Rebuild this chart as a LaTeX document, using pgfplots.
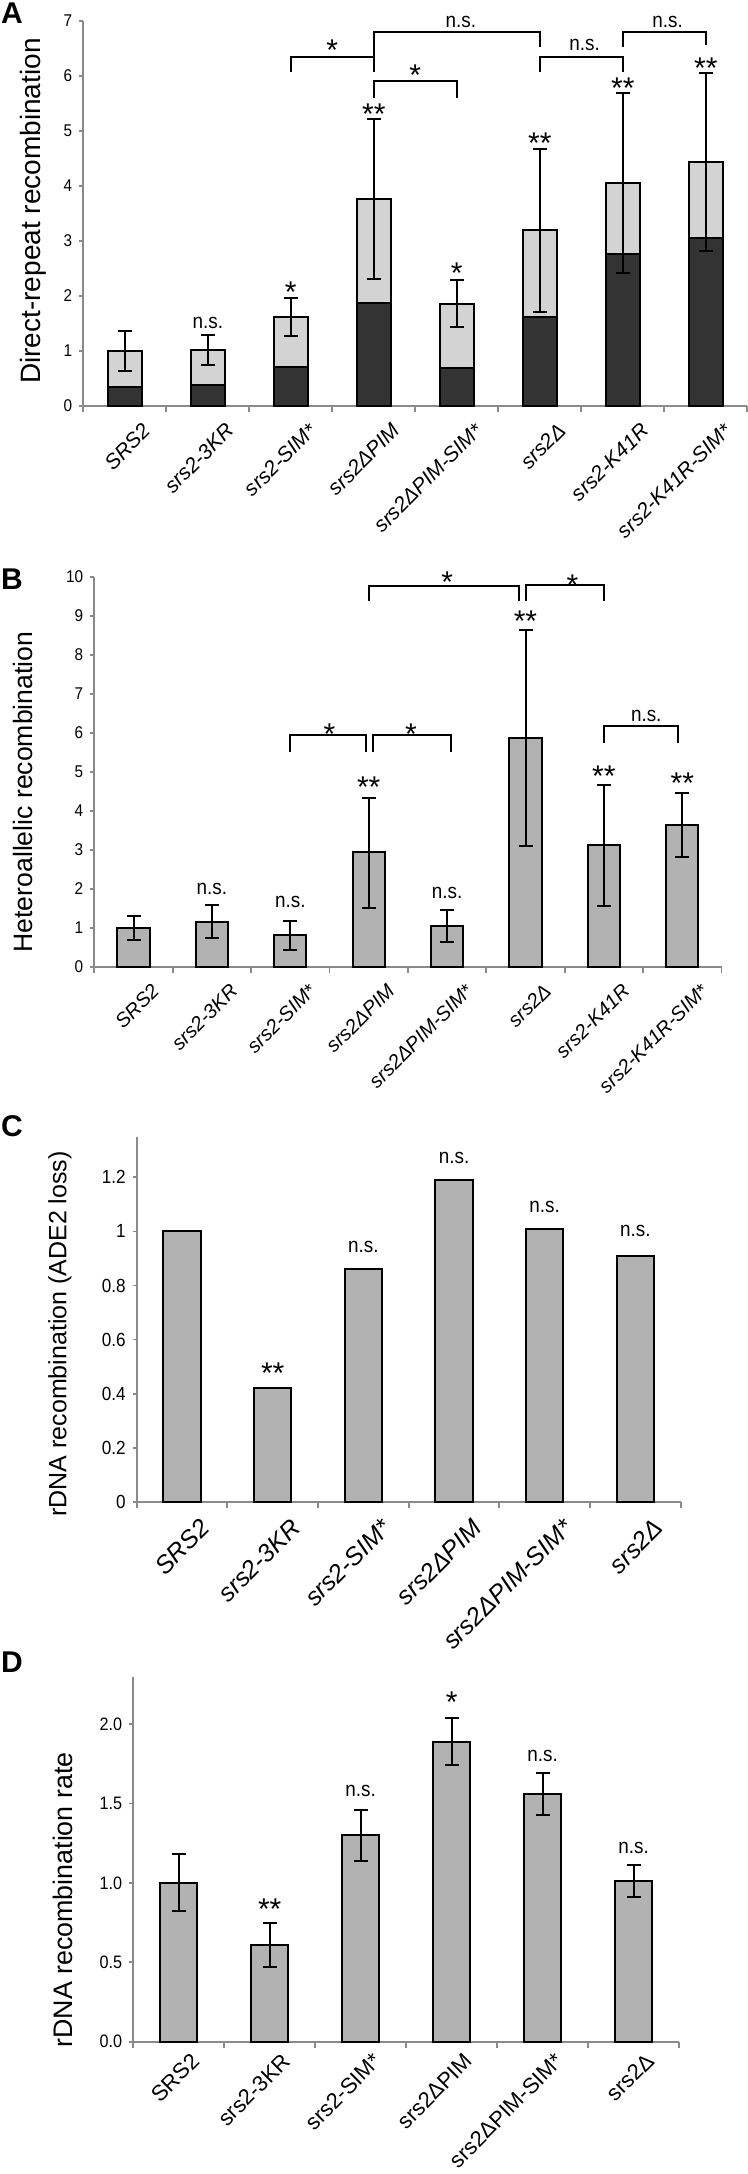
\documentclass[border=0pt]{standalone}
\usepackage{fontspec}
\setmainfont{Liberation Sans}
\newfontfamily\tickfont[FakeStretch=0.9]{Liberation Sans}
\usepackage{pgfplots}
\pgfplotsset{compat=1.18}
\usepackage{pgfplotstable}

\definecolor{barg}{HTML}{B2B2B2}
\definecolor{darkg}{HTML}{333333}
\definecolor{lightg}{HTML}{D3D3D3}
\definecolor{axg}{HTML}{8A8A8A}

\pgfplotstableread{
x tot dark ep em
0 1.00 0.35 0.36 0.36
1 1.02 0.38 0.27 0.27
2 1.62 0.71 0.35 0.35
3 3.76 1.88 1.46 1.46
4 1.86 0.69 0.42 0.42
5 3.19 1.62 1.47 1.48
6 4.06 2.76 1.62 1.64
7 4.43 3.06 1.62 1.61
}\dataA

\pgfplotstableread{
x y ep em
0 1.00 0.31 0.31
1 1.16 0.42 0.42
2 0.81 0.37 0.39
3 2.95 1.39 1.44
4 1.05 0.40 0.41
5 5.87 2.77 2.78
6 3.12 1.54 1.56
7 3.64 0.81 0.83
}\dataB

\pgfplotstableread{
x y
0 1.00
1 0.42
2 0.86
3 1.19
4 1.01
5 0.91
}\dataC

\pgfplotstableread{
x y ep em
0 1.00 0.18 0.18
1 0.61 0.14 0.14
2 1.30 0.16 0.16
3 1.89 0.15 0.15
4 1.56 0.13 0.13
5 1.01 0.10 0.10
}\dataD

\pgfplotsset{
  panel/.style={
    scale only axis, clip=false, anchor=south west,
    axis x line*=bottom, axis y line*=left,
    axis line style={draw=axg, line width=0.9pt},
    tick align=outside,
    major x tick style={draw=none},
    minor x tick style={draw=axg, line width=0.9pt},
    y tick style={draw=axg, line width=0.9pt},
    major tick length=2pt, minor tick length=3pt,
    /pgf/number format/assume math mode=true,
    yticklabel style={font=\tickfont\fontsize{8.5}{10}\selectfont},
    xticklabel style={rotate=45, anchor=north east, inner sep=0pt, xshift=2pt, yshift=-10pt},
    ymin=0,
  },
  bars/.style={ybar, bar width=0.41, bar shift=0pt, draw=black, line width=1pt},
  ebars/.style={error bars/y dir=both, error bars/y explicit,
    error bars/error bar style={draw=black, line width=1pt},
    error bars/error mark options={rotate=90, draw=black, mark size=3.5pt, line width=1pt}},
  brk/.style={black, line width=1pt, mark=none},
}
\tikzset{
  ns/.style={font=\tickfont\fontsize{10.5}{12}\selectfont, anchor=center},
  ast/.style={font=\fontsize{15}{17}\selectfont, anchor=center, yshift=-3.4pt},
}

\begin{document}
\begin{tikzpicture}
\useasboundingbox (0,0) rectangle (374pt,1087pt);

\node[font=\bfseries\fontsize{15}{17}\selectfont] at (6pt,1080.5pt) {A};
\node[font=\bfseries\fontsize{15}{17}\selectfont] at (6pt,797.5pt) {B};
\node[font=\bfseries\fontsize{15}{17}\selectfont] at (6pt,524pt) {C};
\node[font=\bfseries\fontsize{15}{17}\selectfont] at (6pt,256pt) {D};

% Panel A
\begin{axis}[panel, at={(41.65pt,884pt)}, width=332pt, height=192.65pt,
  xmin=-0.5, xmax=7.5, ymax=7, ytick={0,1,2,3,4,5,6,7},
  xtick={0,1,2,3,4,5,6,7}, minor xtick={-0.5,0.5,1.5,2.5,3.5,4.5,5.5,6.5,7.5},
  xticklabels={SRS2,srs2-3KR,srs2-SIM*,srs2ΔPIM,srs2ΔPIM-SIM*,srs2Δ,srs2-K41R,srs2-K41R-SIM*},
  xticklabel style={font=\itshape\fontsize{10.5}{12}\selectfont},
  ylabel={Direct-repeat recombination},
  ylabel style={at={(axis description cs:-0.0757,0.506)}, anchor=center, font=\fontsize{14}{16}\selectfont}]
\addplot[bars, fill=lightg] table[x=x,y=tot]{\dataA};
\addplot[bars, fill=darkg] table[x=x,y=dark]{\dataA};
\addplot[ybar, bar width=0.41, bar shift=0pt, draw=none, fill=none, ebars] table[x=x,y=tot,y error plus=ep,y error minus=em]{\dataA};
\addplot[brk] coordinates {(2,6.06) (2,6.34) (3,6.34) (3,6.06)};
\addplot[brk] coordinates {(3,5.59) (3,5.905) (4,5.905) (4,5.59)};
\addplot[brk] coordinates {(3,6.34) (3,6.79) (5,6.79) (5,6.53)};
\addplot[brk] coordinates {(5,6.07) (5,6.34) (6,6.34) (6,6.07)};
\addplot[brk] coordinates {(6,6.53) (6,6.79) (7,6.79) (7,6.56)};
\node[ast] at (axis cs:2.5,6.59) {*};
\node[ast] at (axis cs:3.5,6.14) {*};
\node[ns] at (axis cs:4.05,6.97) {n.s.};
\node[ns] at (axis cs:5.54,6.56) {n.s.};
\node[ns] at (axis cs:6.54,6.97) {n.s.};
\node[ns] at (axis cs:1,1.51) {n.s.};
\node[ast] at (axis cs:2,2.2) {*};
\node[ast] at (axis cs:3,5.43) {**};
\node[ast] at (axis cs:4,2.53) {*};
\node[ast] at (axis cs:5,4.89) {**};
\node[ast] at (axis cs:6,5.89) {**};
\node[ast] at (axis cs:7,6.26) {**};
\end{axis}

% Panel B
\begin{axis}[panel, at={(47.15pt,603.6pt)}, width=313.6pt, height=195pt,
  xmin=-0.5, xmax=7.5, ymax=10, ytick={0,1,2,3,4,5,6,7,8,9,10},
  xtick={0,1,2,3,4,5,6,7}, minor xtick={-0.5,0.5,1.5,2.5,3.5,4.5,5.5,6.5,7.5},
  xticklabels={SRS2,srs2-3KR,srs2-SIM*,srs2ΔPIM,srs2ΔPIM-SIM*,srs2Δ,srs2-K41R,srs2-K41R-SIM*},
  xticklabel style={font=\itshape\fontsize{10}{12}\selectfont},
  ylabel={Heteroallelic recombination},
  ylabel style={at={(axis description cs:-0.1137,0.448)}, anchor=center, font=\fontsize{13.3}{15}\selectfont}]
\addplot[bars, fill=barg, ebars] table[x=x,y=y,y error plus=ep,y error minus=em]{\dataB};
\addplot[brk] coordinates {(3,9.39) (3,9.76) (4.92,9.76) (4.92,9.39)};
\addplot[brk] coordinates {(5,9.39) (5,9.8) (6,9.8) (6,9.39)};
\addplot[brk] coordinates {(2,5.51) (2,5.94) (2.97,5.94) (2.97,5.51)};
\addplot[brk] coordinates {(3.05,5.51) (3.05,5.94) (4.05,5.94) (4.05,5.51)};
\addplot[brk] coordinates {(6,5.74) (6,6.17) (6.94,6.17) (6.94,5.74)};
\node[ast] at (axis cs:4.0,10.03) {*};
\node[ast] at (axis cs:5.6,9.95) {*};
\node[ast] at (axis cs:2.5,6.14) {*};
\node[ast] at (axis cs:3.54,6.14) {*};
\node[ns] at (axis cs:6.54,6.43) {n.s.};
\node[ns] at (axis cs:1,1.99) {n.s.};
\node[ns] at (axis cs:2,1.67) {n.s.};
\node[ast] at (axis cs:3,4.78) {**};
\node[ns] at (axis cs:4,1.90) {n.s.};
\node[ast] at (axis cs:5,9.04) {**};
\node[ast] at (axis cs:6,5.05) {**};
\node[ast] at (axis cs:7,4.87) {**};
\end{axis}

% Panel C
\begin{axis}[panel, at={(68.35pt,336.1pt)}, width=272pt, height=182.5pt,
  xmin=-0.5, xmax=5.5, ymax=1.35, ytick={0,0.2,0.4,0.6,0.8,1,1.2},
  yticklabel style={font=\tickfont\fontsize{9.5}{11}\selectfont},
  xtick={0,1,2,3,4,5}, minor xtick={-0.5,0.5,1.5,2.5,3.5,4.5,5.5},
  xticklabels={SRS2,srs2-3KR,srs2-SIM*,srs2ΔPIM,srs2ΔPIM-SIM*,srs2Δ},
  xticklabel style={font=\itshape\fontsize{12.5}{14}\selectfont},
  ylabel={rDNA recombination (ADE2 loss)},
  ylabel style={at={(axis description cs:-0.141,0.46)}, anchor=center, font=\fontsize{12.5}{15}\selectfont}]
\addplot[bars, fill=barg] table[x=x,y=y]{\dataC};
\node[ast] at (axis cs:1,0.50) {**};
\node[ns] at (axis cs:2,0.944) {n.s.};
\node[ns] at (axis cs:3,1.27) {n.s.};
\node[ns] at (axis cs:4,1.09) {n.s.};
\node[ns] at (axis cs:5,1.0) {n.s.};
\end{axis}

% Panel D
\begin{axis}[panel, at={(66.65pt,66.15pt)}, width=272.85pt, height=182.6pt,
  xmin=-0.5, xmax=5.5, ymax=2.3, ytick={0,0.5,1,1.5,2},
  yticklabel style={font=\tickfont\fontsize{9}{11}\selectfont, /pgf/number format/.cd, fixed, fixed zerofill, precision=1},
  xtick={0,1,2,3,4,5}, minor xtick={-0.5,0.5,1.5,2.5,3.5,4.5,5.5},
  xticklabels={SRS2,srs2-3KR,srs2-SIM*,srs2ΔPIM,srs2ΔPIM-SIM*,srs2Δ},
  xticklabel style={font=\fontsize{11}{13}\selectfont, yshift=4pt},
  ylabel={rDNA recombination rate},
  ylabel style={at={(axis description cs:-0.129,0.388)}, anchor=center, font=\fontsize{13.4}{15}\selectfont}]
\addplot[bars, fill=barg, ebars] table[x=x,y=y,y error plus=ep,y error minus=em]{\dataD};
\node[ast] at (axis cs:1,0.88) {**};
\node[ns] at (axis cs:2,1.58) {n.s.};
\node[ast] at (axis cs:3,2.18) {*};
\node[ns] at (axis cs:4,1.80) {n.s.};
\node[ns] at (axis cs:5,1.22) {n.s.};
\end{axis}
\end{tikzpicture}
\end{document}
